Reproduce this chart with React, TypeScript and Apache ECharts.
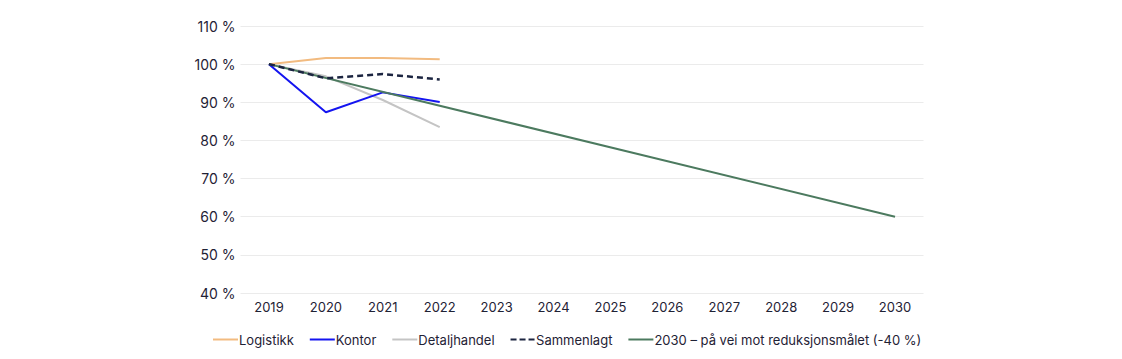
import React, { useEffect, useRef } from "react";
import * as echarts from "echarts";

const years = ["2019", "2020", "2021", "2022", "2023", "2024", "2025", "2026", "2027", "2028", "2029", "2030"];
const logistikk = [100, 101.6, 101.6, 101.3];
const kontor = [100, 87.4, 92.6, 90.1];
const detaljhandel = [100, 96.8, 90.6, 83.5];
const sammenlagt = [100, 96.3, 97.4, 96.0];
const target = [100, null, null, null, null, null, null, null, null, null, null, 60];

const textColor = "#1f2235";
const font = "Inter";

export default function App() {
  const ref = useRef<HTMLDivElement>(null);
  useEffect(() => {
    const chart = echarts.init(ref.current!, null, { renderer: "svg" });
    const line = (name: string, data: any[], color: string, extra: any = {}) => ({
      name,
      type: "line",
      data,
      symbol: "none",
      connectNulls: true,
      lineStyle: { color, width: 2, ...(extra.lineStyle || {}) },
      itemStyle: { color },
      z: extra.z || 2,
    });
    chart.setOption({
      animation: false,
      textStyle: { fontFamily: font, color: textColor },
      grid: { left: 240.5, right: 1122 - 923.5, top: 26, bottom: 359 - 293 },
      legend: {
        bottom: 8,
        left: 208,
        itemWidth: 25,
        itemHeight: 2,
        itemGap: 16,
        icon: "rect",
        textStyle: { fontFamily: font, fontSize: 13, color: textColor, padding: [0, 0, 0, -4] },
        data: [
          { name: "Logistikk" },
          { name: "Kontor" },
          { name: "Detaljhandel" },
          { name: "Sammenlagt", icon: "path://M0,0 H6 V2 H0 Z M9,0 H15 V2 H9 Z M18,0 H24 V2 H18 Z" },
          { name: "2030 – på vei mot reduksjonsmålet (-40 %)" },
        ],
      },
      xAxis: {
        type: "category",
        data: years,
        boundaryGap: true,
        axisLine: { show: false },
        axisTick: { show: false },
        axisLabel: { fontFamily: font, fontSize: 13, color: textColor, margin: 7 },
      },
      yAxis: {
        type: "value",
        min: 40,
        max: 110,
        interval: 10,
        axisLine: { show: false },
        axisTick: { show: false },
        splitLine: { lineStyle: { color: "#ebebeb", width: 1 } },
        axisLabel: {
          fontFamily: font,
          fontSize: 14,
          color: textColor,
          margin: 5,
          formatter: (v: number) => v + " %",
        },
      },
      series: [
        line("Logistikk", logistikk, "#f2bb80"),
        line("Kontor", kontor, "#1414f0", { z: 3 }),
        line("Detaljhandel", detaljhandel, "#c4c4c4"),
        line("Sammenlagt", sammenlagt, "#1c2541", { lineStyle: { type: [6, 4], width: 2.5 }, z: 4 }),
        line("2030 – på vei mot reduksjonsmålet (-40 %)", target, "#4c7a5f", { z: 3 }),
      ],
    });
    return () => chart.dispose();
  }, []);
  return <div ref={ref} style={{ width: 1122, height: 359, position: "absolute", left: 0, top: 0 }} />;
}
